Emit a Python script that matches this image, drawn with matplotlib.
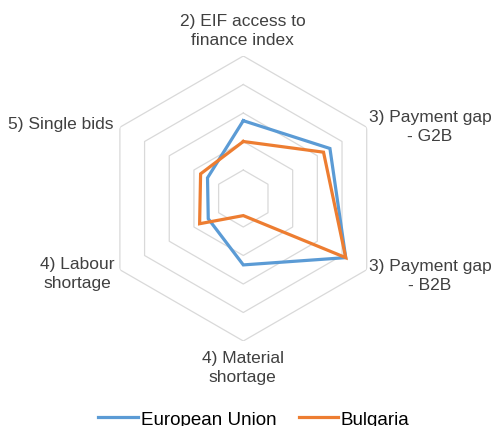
import numpy as np
import matplotlib
matplotlib.use("Agg")
import matplotlib.pyplot as plt

# --- Data ---
categories = ["2) EIF access to\nfinance index", "3) Payment gap\n- G2B",
              "3) Payment gap\n- B2B", "4) Material\nshortage",
              "4) Labour\nshortage", "5) Single bids"]
eu_values = [2.73, 3.51, 4.15, 2.33, 1.42, 1.45]
bg_values = [2.0, 3.25, 4.15, 0.6, 1.77, 1.73]
ring_levels = [1, 2, 3, 4, 5]

BLUE = "#5B9BD5"
ORANGE = "#ED7D31"
GRID = "#D9D9D9"

plt.rcParams["font.family"] = ["Liberation Sans", "DejaVu Sans"]

W, H = 495, 427
fig = plt.figure(figsize=(W / 100, H / 100), dpi=100)

# polar axes placed so the centre sits at (243, 199.5) px and r=5 is 142.5 px
cx, cy, R = 243.3, 199.5, 142.5
ax = fig.add_axes([(cx - R) / W, 1 - (cy + R) / H, 2 * R / W, 2 * R / H],
                  projection="polar")
ax.set_theta_offset(np.pi / 2)
ax.set_theta_direction(-1)
ax.set_ylim(0, 5)
ax.grid(False)
ax.spines["polar"].set_visible(False)
ax.set_xticks([])
ax.set_yticks([])
ax.patch.set_alpha(0)

n = len(categories)
theta = np.linspace(0, 2 * np.pi, n, endpoint=False)
theta_c = np.append(theta, theta[0])

for lvl in ring_levels:
    ax.plot(theta_c, [lvl] * (n + 1), color=GRID, lw=0.9, zorder=1)


def closed(vals):
    return np.append(vals, vals[0])


ax.plot(theta_c, closed(eu_values), color=BLUE, lw=2.3, label="European Union",
        solid_joinstyle="miter", zorder=3)
ax.plot(theta_c, closed(bg_values), color=ORANGE, lw=2.3, label="Bulgaria",
        solid_joinstyle="miter", zorder=4)

# category labels (pixel centres from the reference)
label_pos = [(242.5, 31), (430, 127), (430, 276), (242.5, 368), (77, 274), (60.7, 125)]
for text, (px, py) in zip(categories, label_pos):
    fig.text(px / W, 1 - py / H, text, ha="center", va="center",
             multialignment="center", fontsize=12.5, color="#404040",
             linespacing=1.3)

fig.legend(loc="center", bbox_to_anchor=(254 / W, 1 - 420 / H), ncol=2,
           frameon=False, fontsize=13.5, handlelength=2.1, handletextpad=0.15,
           columnspacing=1.2, borderpad=0)

fig.savefig("out.png", dpi=100)
